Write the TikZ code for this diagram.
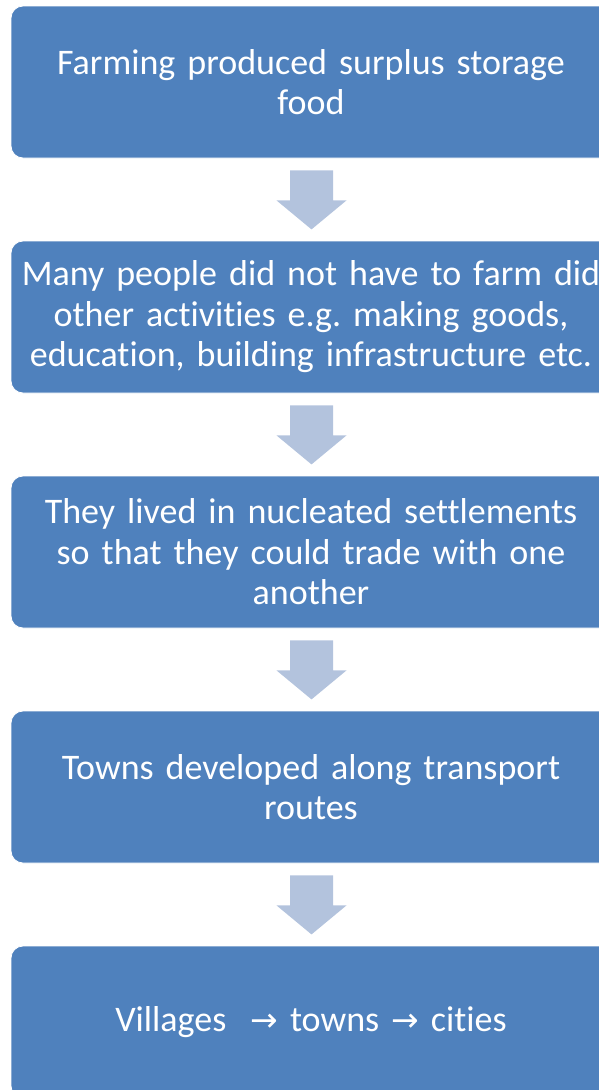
\documentclass[tikz,border=0pt]{standalone}
\usepackage{fontspec}
\setmainfont{Carlito}[Ligatures=NoCommon,WordSpace=0.9]
\newfontfamily\symfont{DejaVu Sans}
\usetikzlibrary{calc}
\definecolor{boxblue}{HTML}{4F81BD}
\definecolor{arrowblue}{HTML}{B3C3DD}
\tikzset{
  stepbox/.style={rectangle, rounded corners=12pt, fill=boxblue, draw=white, line width=0.8pt,
    minimum width=600pt, minimum height=152pt, text width=590pt, align=center,
    text=white, font=\fontsize{36}{40.5}\selectfont\frenchspacing, inner sep=0pt},
  blockarrow/.style={fill=arrowblue, draw=none}
}
\newcommand{\ar}{{\symfont\fontsize{33}{40}\selectfont →}}
\begin{document}
\begin{tikzpicture}[x=1pt,y=1pt]
\useasboundingbox (0,0) rectangle (599,-1090);
\begin{scope}
\clip (0,0) rectangle (599,-1090);
\node[stepbox] (b1) at (311,-82) {Farming produced surplus storage\\food};
\node[stepbox] (b2) at (311,-317) {Many people did not have to farm did\\other activities e.g. making goods,\\education, building infrastructure etc.};
\node[stepbox] (b3) at (311,-552) {They lived in nucleated settlements\\so that they could trade with one\\another};
\node[stepbox] (b4) at (311,-787) {Towns developed along transport\\routes};
\node[stepbox] (b5) at (311,-1022) {Villages \ \ar{} towns \ar{} cities};
\end{scope}
\foreach \a/\b in {b1/b2,b2/b3,b3/b4,b4/b5}{
  \coordinate (s) at ($(\a.south)+(0.5,0)$);
  \fill[blockarrow] ($(s)+(-21.5,-12)$) -- ($(s)+(21.5,-12)$) -- ($(s)+(21.5,-42)$)
    -- ($(s)+(35,-42)$) -- ($(s)+(0,-71)$) -- ($(s)+(-35,-42)$) -- ($(s)+(-21.5,-42)$) -- cycle;
}
\end{tikzpicture}
\end{document}
